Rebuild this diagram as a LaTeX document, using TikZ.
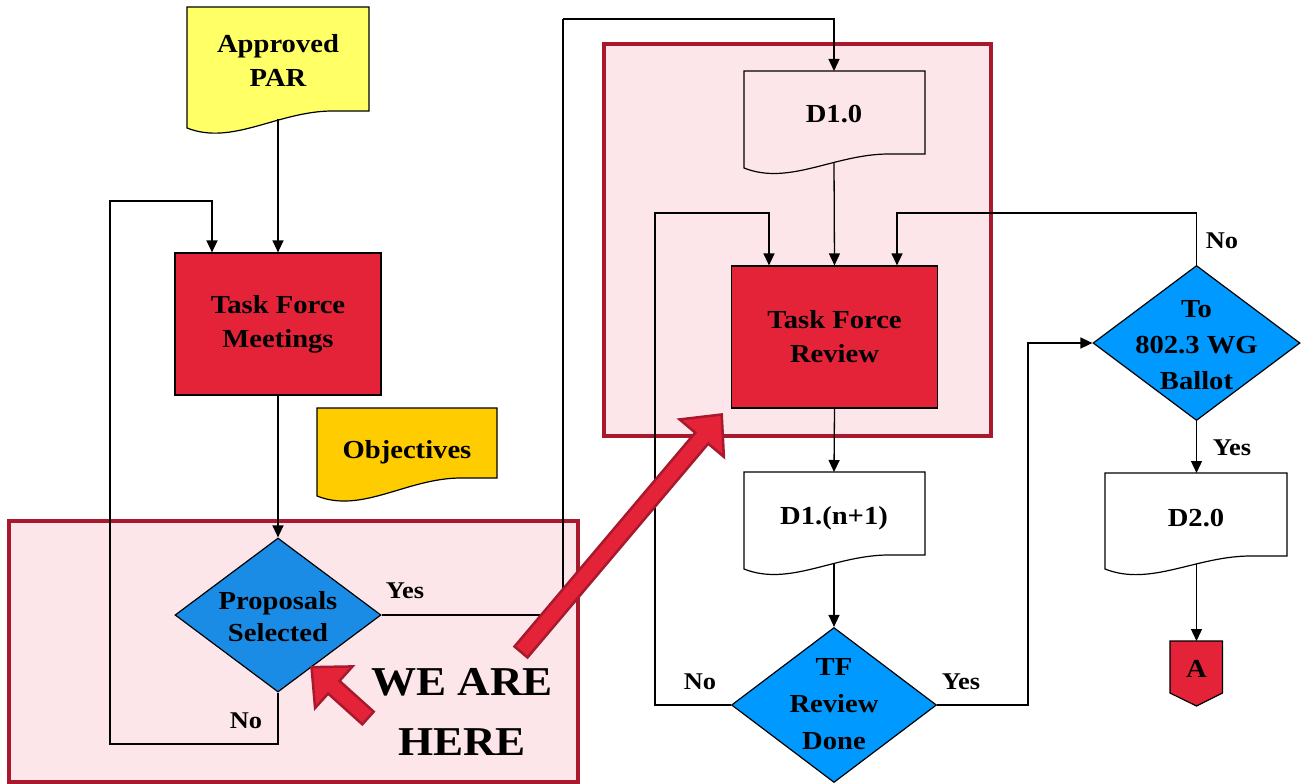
\documentclass[tikz,border=0pt]{standalone}
\usepackage{fontspec}
\setmainfont{Liberation Serif}[FakeStretch=1.1]
\usetikzlibrary{shapes.geometric,arrows.meta}
\definecolor{tfred}{HTML}{E42338}
\definecolor{boxred}{HTML}{A8192E}
\definecolor{pinkbg}{HTML}{FCE6E9}
\definecolor{paryellow}{HTML}{FFFF66}
\definecolor{objgold}{HTML}{FFCC00}
\definecolor{blueA}{HTML}{1A8CE6}
\definecolor{blueB}{HTML}{0099FF}
\newcommand\docshape[6]{%
  \pgfmathsetmacro\dw{#3-#2}%
  \path[#1] (#2,#4) -- (#3,#4) -- (#3,#6) -- ({#2+0.8*\dw},#6) .. controls ({#2+0.5*\dw},#6) and ({#2+0.25*\dw},{#5+18}) .. (#2,#5) -- cycle;%
}
\newcommand\blockarrow[7]{%
  \begin{scope}[shift={(#1,#2)}, rotate=#3]
    \draw[bigarrow] (0,-#7) -- ({#4-#5},-#7) -- ({#4-#5},-#6) -- (#4,0) -- ({#4-#5},#6) -- ({#4-#5},#7) -- (0,#7) -- cycle;
  \end{scope}}
\begin{document}
\begin{tikzpicture}[x=1pt,y=-1pt,
  txt/.style={font=\fontsize{26}{34}\selectfont\bfseries, align=center, inner sep=0pt},
  lbl/.style={font=\fontsize{24}{28}\selectfont\bfseries, inner sep=0pt},
  procbox/.style={draw=black, line width=1.2pt, fill=tfred, minimum width=206pt, minimum height=142pt, txt},
  decision/.style={diamond, draw=black, line width=1.2pt, minimum width=206pt, minimum height=154pt, inner sep=0pt},
  docline/.style={draw=black, line width=1.2pt},
  conn/.style={line width=1.3pt, draw=black},
  arr/.style={conn, -{Triangle[width=11pt,length=12pt]}},
  zone/.style={draw=boxred, line width=3.5pt, fill=pinkbg},
  bigarrow/.style={draw=boxred, line width=2.5pt, fill=tfred, line join=miter},
]
\useasboundingbox (0,0) rectangle (1304,784);
% zones
\draw[zone] (9,521) rectangle (578,782);
\draw[zone] (604,44) rectangle (991,436);

% Approved PAR
\docshape{docline,fill=paryellow}{187}{369}{7}{128}{111}
\node[txt] (par) at (278,60) {Approved\\PAR};
\coordinate (par-b) at (278,119);

% Task Force Meetings
\node[procbox] (tfm) at (278,324) {Task Force\\Meetings};

% Objectives
\docshape{docline,fill=objgold}{317}{497}{408}{496}{478}
\node[txt] (obj) at (407,452) {Objectives};

% Proposals Selected
\node[decision, fill=blueA] (ps) at (278,615) {};
\node[txt, font=\fontsize{26}{32}\selectfont\bfseries] (pst) at (278,617) {Proposals\\Selected};

% D1.0
\docshape{docline,fill=pinkbg}{744}{925}{71}{168}{154}
\node[txt] (d10) at (834,114) {D1.0};
\coordinate (d10-t) at (834,71);
\coordinate (d10-b) at (834,162);

% Task Force Review
\node[procbox] (tfr) at (834.5,337) {Task Force\\Review};

% D1.(n+1)
\docshape{docline,fill=white}{744}{925}{472}{569}{555}
\node[txt] (dn) at (834,518) {D1.(n+1)};
\coordinate (dn-t) at (834,472);
\coordinate (dn-b) at (834,563);

% TF Review Done
\node[decision, fill=blueB, minimum width=205pt, minimum height=155pt] (tfd) at (834,705) {};
\node[txt, font=\fontsize{26}{37}\selectfont\bfseries] (tfdt) at (834,704) {TF\\Review\\Done};

% Ballot
\node[decision, fill=blueB, minimum width=207pt, minimum height=155pt] (bd) at (1196.5,343) {};
\node[txt, font=\fontsize{26}{36}\selectfont\bfseries] (bdt) at (1196.5,345) {To\\802.3 WG\\Ballot};

% D2.0
\docshape{docline,fill=white}{1105}{1287}{473}{569}{556}
\node[txt] (d20) at (1196,518) {D2.0};
\coordinate (d20-t) at (1196.5,473);
\coordinate (d20-b) at (1196.5,564);

% A connector
\draw[docline, fill=tfred] (1170,641) -- (1222.5,641) -- (1222.5,693) -- (1196.5,706) -- (1170,693) -- cycle;
\node[txt] (A) at (1196.5,669) {A};
\coordinate (A-t) at (1196.5,641);

% connectors
\draw[arr] (par-b) -- (tfm.north);
\draw[arr] (tfm.south) -- (ps.north);
\draw[arr] (ps.south) |- (110,744) |- (212,201) -- ([xshift=-66pt]tfm.north);
\draw[conn] (ps.east) -| (563,19);
\draw[arr] (563,19) -| (d10-t);
\draw[arr] (d10-b) -- (tfr.north);
\draw[arr] (tfr.south) -- (dn-t);
\draw[arr] (dn-b) -- (tfd.north);
\draw[arr] (tfd.west) -| (655,213) -| ([xshift=-65.5pt]tfr.north);
\draw[arr] (tfd.east) -| (1028,343) -- (bd.west);
\draw[arr] (bd.north) |- (897,213) -- ([xshift=62.5pt]tfr.north);
\draw[arr] (bd.south) -- (d20-t);
\draw[arr] (d20-b) -- (A-t);

% labels
\node[lbl] (l1) at (405,591) {Yes};
\node[lbl] (l2) at (246,721) {No};
\node[lbl] (l3) at (700,682) {No};
\node[lbl] (l4) at (961,682) {Yes};
\node[lbl] (l5) at (1222,241) {No};
\node[lbl] (l6) at (1232,448) {Yes};

% big arrows
\blockarrow{521}{652}{49.8}{311}{31}{29}{8.5}
\blockarrow{368}{718}{138}{76}{30}{28}{8.5}

\node[font=\fontsize{41}{60}\selectfont\bfseries, align=center, inner sep=0pt] (here) at (462,712) {WE ARE\\HERE};
\end{tikzpicture}
\end{document}
